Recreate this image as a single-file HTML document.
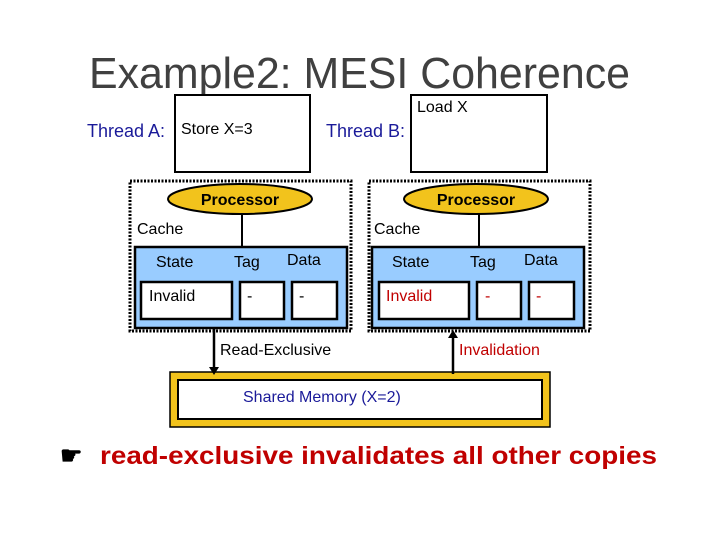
<!DOCTYPE html>
<html><head><style>body{margin:0;background:#fff}svg{display:block}text{font-family:"Liberation Sans",Arial,sans-serif}</style></head>
<body>
<svg width="720" height="540" viewBox="0 0 720 540" xmlns="http://www.w3.org/2000/svg">
<text x="89" y="88" font-size="44" fill="#404040" textLength="541" lengthAdjust="spacingAndGlyphs">Example2: MESI Coherence</text>
<rect x="175" y="95" width="135" height="77" fill="#fff" stroke="#000" stroke-width="2"/>
<rect x="411" y="95" width="136" height="77" fill="#fff" stroke="#000" stroke-width="2"/>
<text x="87" y="137" font-size="18" fill="#1a1a99">Thread A:</text>
<text x="181" y="134" font-size="16" fill="#000">Store X=3</text>
<text x="326" y="137" font-size="18" fill="#1a1a99">Thread B:</text>
<text x="417" y="112" font-size="16" fill="#000">Load X</text>
<g fill="none" stroke="#000" stroke-width="3" stroke-dasharray="2,1.5">
<rect x="130" y="181" width="221" height="150"/>
<rect x="369" y="181" width="221" height="150"/>
</g>
<line x1="242" y1="212" x2="242" y2="247" stroke="#000" stroke-width="2"/>
<line x1="479" y1="212" x2="479" y2="247" stroke="#000" stroke-width="2"/>
<ellipse cx="240" cy="199" rx="72" ry="15" fill="#f2c31c" stroke="#000" stroke-width="2"/>
<ellipse cx="476" cy="199" rx="72" ry="15" fill="#f2c31c" stroke="#000" stroke-width="2"/>
<text x="240" y="205" font-size="16" font-weight="bold" text-anchor="middle">Processor</text>
<text x="476" y="205" font-size="16" font-weight="bold" text-anchor="middle">Processor</text>
<text x="137" y="234" font-size="16">Cache</text>
<text x="374" y="234" font-size="16">Cache</text>
<rect x="135" y="247" width="212" height="81" fill="#99ccff" stroke="#000" stroke-width="2.5"/>
<rect x="372" y="247" width="212" height="81" fill="#99ccff" stroke="#000" stroke-width="2.5"/>
<g fill="#fff" stroke="#000" stroke-width="2.5">
<rect x="141" y="282" width="91" height="37"/><rect x="240" y="282" width="44" height="37"/><rect x="292" y="282" width="45" height="37"/>
<rect x="379" y="282" width="90" height="37"/><rect x="477" y="282" width="44" height="37"/><rect x="529" y="282" width="45" height="37"/>
</g>
<g font-size="16">
<text x="156" y="267">State</text><text x="234" y="267">Tag</text><text x="287" y="265">Data</text>
<text x="392" y="267">State</text><text x="470" y="267">Tag</text><text x="524" y="265">Data</text>
<text x="149" y="301">Invalid</text><text x="247" y="301">-</text><text x="299" y="301">-</text>
<g fill="#c00000"><text x="386" y="301">Invalid</text><text x="485" y="301">-</text><text x="536" y="301">-</text></g>
<text x="220" y="355">Read-Exclusive</text>
<text x="459" y="355" fill="#c00000">Invalidation</text>
</g>
<rect x="174" y="376" width="372" height="47" fill="#fff" stroke="#f2c31c" stroke-width="7"/>
<rect x="178" y="380" width="364" height="39" fill="none" stroke="#000" stroke-width="2"/>
<rect x="170" y="372" width="380" height="55" fill="none" stroke="#000" stroke-width="1.5"/>
<text x="243" y="402" font-size="16" fill="#1a1a99">Shared Memory (X=2)</text>
<line x1="214" y1="329" x2="214" y2="368" stroke="#000" stroke-width="2.5"/>
<polygon points="209,367 219,367 214,375" fill="#000"/>
<line x1="453" y1="337" x2="453" y2="374" stroke="#000" stroke-width="2.5"/>
<polygon points="448,338 458,338 453,330" fill="#000"/>
<text x="60" y="464" font-size="25" font-weight="bold" fill="#000">☛</text>
<text x="100" y="464" font-size="25" font-weight="bold" fill="#c00000" textLength="557" lengthAdjust="spacingAndGlyphs">read-exclusive invalidates all other copies</text>
</svg>
</body></html>
